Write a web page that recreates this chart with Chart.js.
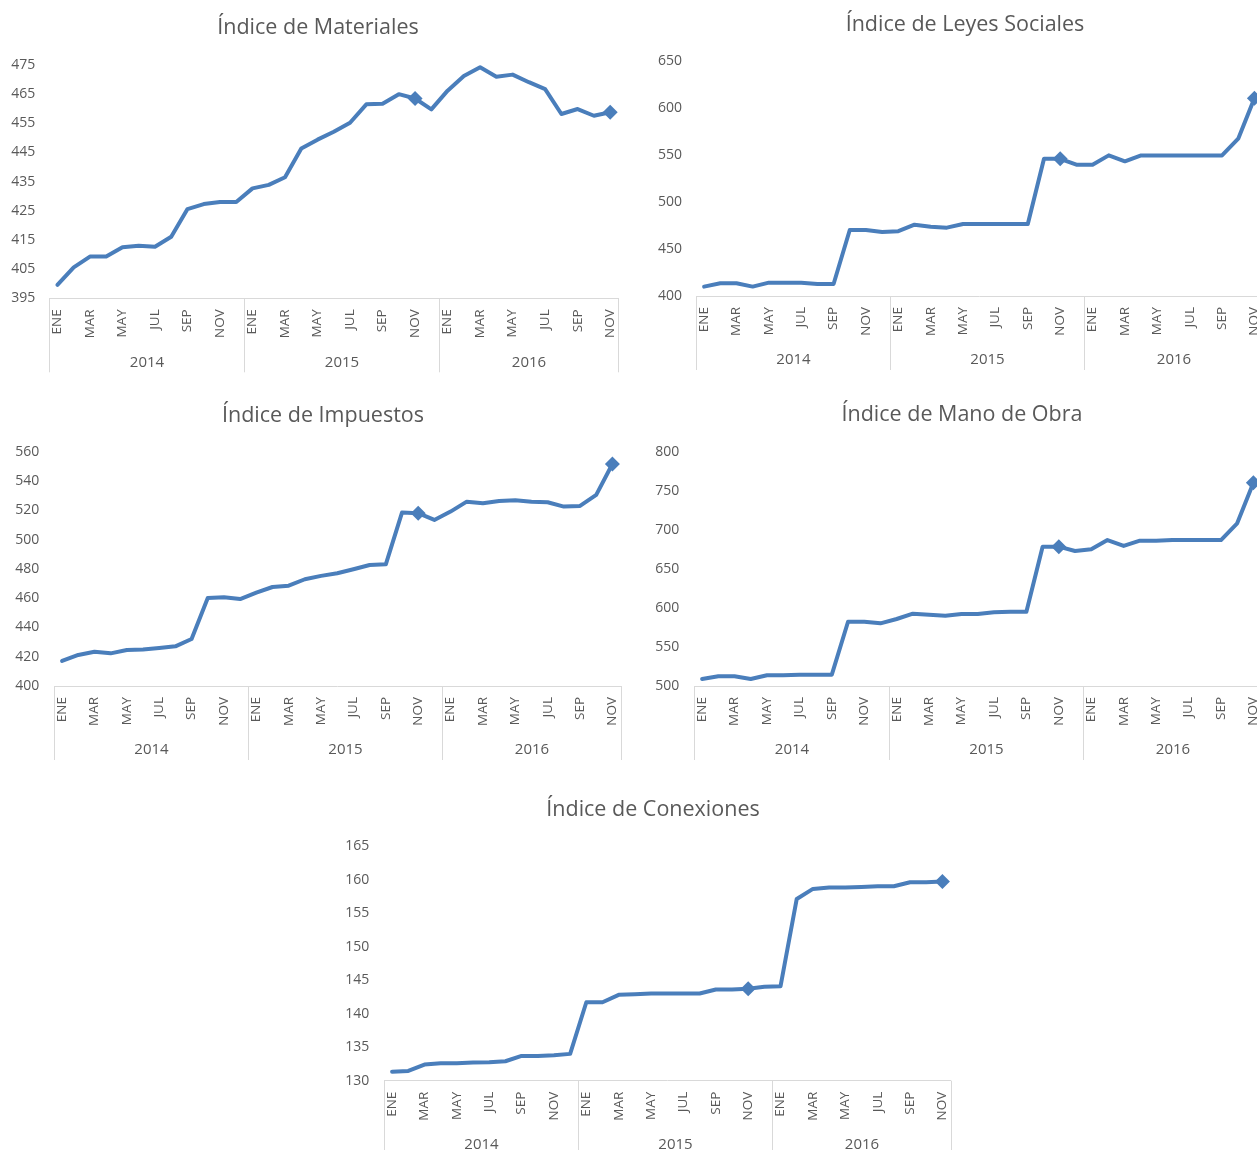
<!DOCTYPE html>
<html>
<head>
<meta charset="utf-8">
<script src="https://cdn.jsdelivr.net/npm/chart.js@4"></script>
<style>
  html, body { margin: 0; padding: 0; background: #ffffff; }
  body { width: 1257px; height: 1150px; overflow: hidden; position: relative; }
  .box { position: absolute; }
  canvas { display: block; }
</style>
</head>
<body>
<div class="box" id="b1"><canvas id="c1"></canvas></div>
<div class="box" id="b2"><canvas id="c2"></canvas></div>
<div class="box" id="b3"><canvas id="c3"></canvas></div>
<div class="box" id="b4"><canvas id="c4"></canvas></div>
<div class="box" id="b5"><canvas id="c5"></canvas></div>
<script>
// ---- data ----
const months = ['ENE','FEB','MAR','ABR','MAY','JUN','JUL','AGO','SEP','OCT','NOV','DIC'];
const years = ['2014','2015','2016'];
const monthsPerYear = [12, 12, 11];
const categories = [];
years.forEach((y, k) => { for (let m = 0; m < monthsPerYear[k]; m++) categories.push(months[m]); });

const materiales = [399.6, 405.6, 409.3, 409.3, 412.5, 413.0, 412.7, 416.1, 425.6, 427.3, 428.0, 428.0,
  432.7, 433.9, 436.5, 446.4, 449.4, 452.1, 455.2, 461.5, 461.7, 465.0, 463.5, 459.8,
  466.2, 471.2, 474.2, 471.0, 471.7, 469.1, 466.7, 458.2, 459.9, 457.6, 458.8];
const leyesSociales = [410, 413.5, 413.5, 410, 414.2, 414, 414, 412.8, 412.8, 470.2, 470.2, 468,
  469, 475.9, 473.7, 472.7, 476.6, 476.6, 476.6, 476.6, 476.6, 546.1, 546, 539.7,
  539.7, 549.6, 543.3, 549.6, 549.6, 549.6, 549.6, 549.6, 549.6, 567.4, 610.3];
const impuestos = [417.1, 421.2, 423.4, 422.3, 424.6, 425.0, 426.0, 427.1, 432.1, 460.1, 460.6, 459.4,
  463.7, 467.6, 468.5, 472.9, 475.2, 477.0, 479.7, 482.6, 483.1, 518.4, 518.0, 513.4,
  519.1, 525.9, 524.8, 526.4, 526.8, 525.9, 525.5, 522.5, 523.0, 530.5, 551.6];
const manoDeObra = [509.0, 512.4, 512.4, 509.0, 513.7, 513.7, 514.5, 514.5, 514.5, 582.3, 582.3, 580.2,
  585.8, 592.6, 591.3, 590.0, 592.2, 592.2, 594.3, 595.2, 595.2, 678.4, 678.4, 672.9,
  675.0, 686.9, 679.3, 686.1, 686.1, 686.9, 686.9, 686.9, 686.9, 708.3, 760.3];
const conexiones = [131.35, 131.45, 132.4, 132.6, 132.6, 132.7, 132.75, 132.9, 133.7, 133.7, 133.8, 134.0,
  141.7, 141.7, 142.8, 142.9, 143.0, 143.0, 143.0, 143.0, 143.6, 143.6, 143.7, 144.0,
  144.1, 157.1, 158.6, 158.8, 158.8, 158.9, 159.0, 159.0, 159.6, 159.6, 159.7];
const markerIndex = [22, 34];

// ---- styles / layout ----
const FONT = "'Open Sans', 'DejaVu Sans', sans-serif";
const TEXT = '#595959';
const AXIS = '#d9d9d9';
const LINE = '#4a7ebb';

const specs = [
  { id: 'c1', box: 'b1', title: 'Índice de Materiales', data: materiales, min: 395, max: 475, step: 10,
    left: 0, top: 0, W: 628, H: 380, padT: 65, padR: 9.7, padB: 6.7, yW: 49.3, yPad: 14, tx: 318, ty: 28 },
  { id: 'c2', box: 'b2', title: 'Índice de Leyes Sociales', data: leyesSociales, min: 400, max: 650, step: 50,
    left: 640, top: 0, W: 630, H: 380, padT: 61, padR: 5.2, padB: 9, yW: 56, yPad: 14, tx: 325, ty: 25 },
  { id: 'c3', box: 'b3', title: 'Índice de Impuestos', data: impuestos, min: 400, max: 560, step: 20,
    left: 0, top: 390, W: 628, H: 380, padT: 61.7, padR: 4.7, padB: 9, yW: 54, yPad: 14.7, tx: 323, ty: 26 },
  { id: 'c4', box: 'b4', title: 'Índice de Mano de Obra', data: manoDeObra, min: 500, max: 800, step: 50,
    left: 640, top: 390, W: 629, H: 380, padT: 61.7, padR: 5.5, padB: 9, yW: 54, yPad: 14.7, tx: 322, ty: 25 },
  { id: 'c5', box: 'b5', title: 'Índice de Conexiones', data: conexiones, min: 130, max: 165, step: 5,
    left: 320, top: 780, W: 638, H: 380, padT: 66, padR: 5.3, padB: 4.3, yW: 64, yPad: 14.7, tx: 333, ty: 30 }
];

const X_AXIS_H = 75;
const SEP_LEN = 74;
const YEAR_OFF = 64;

const yearAxisPlugin = {
  id: 'yearAxis',
  afterDraw(chart) {
    const xs = chart.scales.x;
    const area = chart.chartArea;
    const ctx = chart.ctx;
    const half = (xs.getPixelForValue(1) - xs.getPixelForValue(0)) / 2;
    ctx.save();
    ctx.strokeStyle = AXIS;
    ctx.lineWidth = 1;
    ctx.fillStyle = TEXT;
    ctx.font = "15px " + FONT;
    ctx.textAlign = 'center';
    ctx.textBaseline = 'middle';
    let start = 0;
    years.forEach((y, k) => {
      const end = start + monthsPerYear[k] - 1;
      const l = Math.round(xs.getPixelForValue(start) - half) + 0.5;
      const r = Math.round(xs.getPixelForValue(end) + half) + 0.5;
      ctx.beginPath();
      ctx.moveTo(l, area.bottom);
      ctx.lineTo(l, area.bottom + SEP_LEN);
      if (k === years.length - 1) {
        ctx.moveTo(r, area.bottom);
        ctx.lineTo(r, area.bottom + SEP_LEN);
      }
      ctx.stroke();
      ctx.fillText(y, (l + r) / 2, area.bottom + YEAR_OFF);
      start = end + 1;
    });
    ctx.restore();
  }
};

const titleTextPlugin = {
  id: 'titleText',
  afterDraw(chart, args, opts) {
    const ctx = chart.ctx;
    ctx.save();
    ctx.fillStyle = TEXT;
    ctx.font = "21.5px " + FONT;
    ctx.textAlign = 'center';
    ctx.textBaseline = 'middle';
    ctx.fillText(opts.text, opts.x, opts.y);
    ctx.restore();
  }
};

specs.forEach(s => {
  const box = document.getElementById(s.box);
  box.style.left = s.left + 'px';
  box.style.top = s.top + 'px';
  const cv = document.getElementById(s.id);
  cv.width = s.W; cv.height = s.H;
  cv.style.width = s.W + 'px'; cv.style.height = s.H + 'px';
  new Chart(cv, {
    type: 'line',
    data: {
      labels: categories,
      datasets: [{
        label: s.title,
        data: s.data,
        borderColor: LINE,
        backgroundColor: LINE,
        borderWidth: 4,
        borderJoinStyle: 'round',
        borderCapStyle: 'round',
        tension: 0,
        fill: false,
        pointStyle: 'rectRot',
        pointRadius: c => markerIndex.includes(c.dataIndex) ? 7.5 : 0,
        pointBackgroundColor: LINE,
        pointBorderColor: LINE,
        pointBorderWidth: 0,
        clip: false
      }]
    },
    options: {
      responsive: false,
      animation: false,
      events: [],
      layout: { padding: { left: 0, right: s.padR, top: s.padT, bottom: s.padB } },
      plugins: {
        legend: { display: false },
        tooltip: { enabled: false },
        title: { display: false },
        titleText: { text: s.title, x: s.tx, y: s.ty }
      },
      scales: {
        x: {
          type: 'category',
          offset: true,
          grid: { display: false, drawTicks: false },
          border: { display: true, color: AXIS, width: 1 },
          ticks: {
            autoSkip: false,
            maxRotation: 90,
            minRotation: 90,
            padding: 11,
            color: TEXT,
            font: { family: FONT, size: 13.5 },
            callback: function(v, i) { return i % 2 === 0 ? this.getLabelForValue(v) : ''; }
          },
          afterFit: sc => { sc.height = X_AXIS_H; sc.paddingLeft = 0; sc.paddingRight = 0; }
        },
        y: {
          min: s.min,
          max: s.max,
          grid: { display: false, drawTicks: false },
          border: { display: false },
          ticks: {
            stepSize: s.step,
            padding: s.yPad,
            color: TEXT,
            font: { family: FONT, size: 14 }
          },
          afterFit: sc => { sc.width = s.yW; }
        }
      }
    },
    plugins: [yearAxisPlugin, titleTextPlugin]
  });
});
</script>
</body>
</html>
